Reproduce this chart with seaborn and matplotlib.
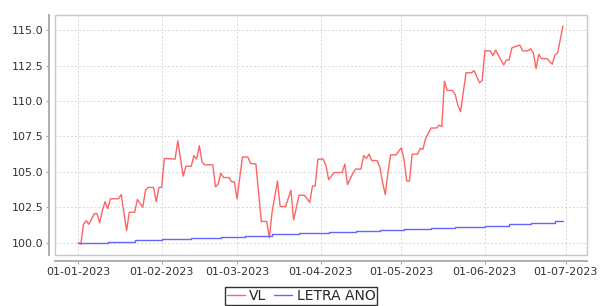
import pandas as pd
import matplotlib.pyplot as plt
import matplotlib.dates as mdates
from matplotlib.patches import Rectangle
import seaborn as sns

# VL series
vl_dates = [
    '2023-01-01', '2023-01-02', '2023-01-03', '2023-01-04', '2023-01-05', '2023-01-07',
    '2023-01-08', '2023-01-09', '2023-01-10', '2023-01-11', '2023-01-12', '2023-01-13',
    '2023-01-16', '2023-01-17', '2023-01-19', '2023-01-20', '2023-01-22', '2023-01-23',
    '2023-01-25', '2023-01-26', '2023-01-27', '2023-01-29', '2023-01-30', '2023-01-31',
    '2023-02-01', '2023-02-02', '2023-02-06', '2023-02-07', '2023-02-09', '2023-02-10',
    '2023-02-12', '2023-02-13', '2023-02-14', '2023-02-15', '2023-02-16', '2023-02-17',
    '2023-02-20', '2023-02-21', '2023-02-22', '2023-02-23', '2023-02-24', '2023-02-26',
    '2023-02-27', '2023-02-28', '2023-03-01', '2023-03-03', '2023-03-05', '2023-03-06',
    '2023-03-08', '2023-03-10', '2023-03-12', '2023-03-13', '2023-03-14', '2023-03-16',
    '2023-03-17', '2023-03-19', '2023-03-21', '2023-03-22', '2023-03-24', '2023-03-26',
    '2023-03-28', '2023-03-29', '2023-03-30', '2023-03-31', '2023-04-02', '2023-04-03',
    '2023-04-04', '2023-04-06', '2023-04-09', '2023-04-10', '2023-04-11', '2023-04-13',
    '2023-04-14', '2023-04-16', '2023-04-17', '2023-04-18', '2023-04-19', '2023-04-20',
    '2023-04-22', '2023-04-23', '2023-04-24', '2023-04-25', '2023-04-26', '2023-04-27',
    '2023-04-29', '2023-05-01', '2023-05-02', '2023-05-03', '2023-05-04', '2023-05-05',
    '2023-05-07', '2023-05-08', '2023-05-09', '2023-05-10', '2023-05-12', '2023-05-14',
    '2023-05-15', '2023-05-16', '2023-05-17', '2023-05-18', '2023-05-20', '2023-05-21',
    '2023-05-22', '2023-05-23', '2023-05-25', '2023-05-27', '2023-05-28', '2023-05-30',
    '2023-05-31', '2023-06-01', '2023-06-03', '2023-06-04', '2023-06-05', '2023-06-07',
    '2023-06-08', '2023-06-09', '2023-06-10', '2023-06-11', '2023-06-13', '2023-06-14',
    '2023-06-15', '2023-06-17', '2023-06-18', '2023-06-19', '2023-06-20', '2023-06-21',
    '2023-06-22', '2023-06-24', '2023-06-26', '2023-06-27', '2023-06-28', '2023-06-30',
]
vl_values = [
    100.0, 99.9, 101.3, 101.55, 101.3, 102.05,
    102.05, 101.4, 102.25, 102.9, 102.4, 103.1,
    103.1, 103.4, 100.85, 102.15, 102.15, 103.05,
    102.5, 103.7, 103.9, 103.9, 102.9, 103.9,
    103.9, 105.95, 105.9, 107.2, 104.7, 105.4,
    105.4, 106.15, 105.9, 106.85, 105.7, 105.5,
    105.5, 103.95, 104.15, 104.9, 104.6, 104.6,
    104.3, 104.3, 103.1, 106.05, 106.05, 105.6,
    105.55, 101.5, 101.5, 100.35, 102.15, 104.35,
    102.55, 102.55, 103.7, 101.6, 103.35, 103.35,
    102.85, 104.0, 104.0, 105.9, 105.9, 105.45,
    104.45, 104.95, 104.95, 105.55, 104.1, 104.9,
    105.2, 105.2, 106.15, 105.95, 106.25, 105.8,
    105.8, 105.35, 104.3, 103.4, 104.9, 106.2,
    106.2, 106.7, 105.85, 104.35, 104.35, 106.25,
    106.25, 106.65, 106.6, 107.35, 108.1, 108.1,
    108.3, 108.2, 111.4, 110.75, 110.75, 110.45,
    109.7, 109.25, 112.0, 112.0, 112.15, 111.3,
    111.45, 113.55, 113.55, 113.2, 113.6, 112.9,
    112.55, 112.9, 112.9, 113.75, 113.9, 113.95,
    113.55, 113.55, 113.7, 113.4, 112.3, 113.3,
    113.0, 113.0, 112.6, 113.25, 113.4, 115.3,
]

# LETRA AÑO series (step changes)
letra_dates = [
    '2023-01-01', '2023-01-12', '2023-01-22', '2023-02-01', '2023-02-12', '2023-02-23',
    '2023-03-04', '2023-03-14', '2023-03-24', '2023-04-04', '2023-04-14', '2023-04-23',
    '2023-05-02', '2023-05-12', '2023-05-21', '2023-06-01', '2023-06-10', '2023-06-18',
    '2023-06-27', '2023-06-30',
]
letra_values = [
    100.0, 100.08, 100.16, 100.24, 100.32, 100.41,
    100.5, 100.58, 100.65, 100.73, 100.81, 100.88,
    100.96, 101.04, 101.12, 101.21, 101.3, 101.38,
    101.5, 101.55,
]

y_ticks = [100.0, 102.5, 105.0, 107.5, 110.0, 112.5, 115.0]
x_ticks = ['2023-01-01', '2023-02-01', '2023-03-01', '2023-04-01',
           '2023-05-01', '2023-06-01', '2023-07-01']

vl = pd.DataFrame({'fecha': pd.to_datetime(vl_dates), 'valor': vl_values})
letra = pd.DataFrame({'fecha': pd.to_datetime(letra_dates), 'valor': letra_values})

sns.set_style('white')
plt.rcParams['font.family'] = ['DejaVu Sans']

fig = plt.figure(figsize=(6, 3.06), dpi=100)
ax = fig.add_axes([55 / 600, 1 - 255 / 306, 532 / 600, 240 / 306])

sns.lineplot(data=vl, x='fecha', y='valor', ax=ax, color='#ff6464', linewidth=1, label='VL')
sns.lineplot(data=letra, x='fecha', y='valor', ax=ax, color='#6464ff', linewidth=1,
             drawstyle='steps-post', label='LETRA AÑO')

ax.set_xlim(pd.Timestamp('2022-12-23 10:00'), pd.Timestamp('2023-07-08 22:00'))
ax.set_ylim(99.13, 116.08)
ax.set_yticks(y_ticks)
ax.set_xticks(pd.to_datetime(x_ticks))
ax.xaxis.set_major_formatter(mdates.DateFormatter('%d-%m-%Y'))
ax.yaxis.set_major_formatter(plt.FuncFormatter(lambda v, p: f'{v:.1f}'))
ax.set_xlabel('')
ax.set_ylabel('')

ax.grid(True, color='#d8d8d8', linestyle=(0, (2, 2)), linewidth=0.7)

# plot outline and offset axis lines
for s in ['top', 'right']:
    ax.spines[s].set_color('#c8c8c8')
ax.spines['left'].set_position(('outward', 4))
ax.spines['bottom'].set_position(('outward', 4.3))
ax.spines['left'].set_color('#a8a8a8')
ax.spines['bottom'].set_color('#a8a8a8')
ax.spines['left'].set_linewidth(1.3)
ax.spines['bottom'].set_linewidth(1.3)
ax.add_patch(Rectangle((0, 0), 1, 1, transform=ax.transAxes, fill=False,
                       edgecolor='#c8c8c8', linewidth=1, clip_on=False))

ax.tick_params(axis='both', which='both', length=2, width=0.8, color='#a8a8a8',
               labelsize=8, labelcolor='#333333', pad=2)
ax.tick_params(axis='both', left=True, bottom=True)

leg = ax.legend(loc='upper center', bbox_to_anchor=(0.5 - 20 / 532, -0.132),
                ncol=2, frameon=True, fancybox=False, fontsize=10, handlelength=1.3,
                handletextpad=0.3, columnspacing=0.6, borderpad=0.15, borderaxespad=0)
leg.get_frame().set_edgecolor('black')
leg.get_frame().set_linewidth(1)

fig.savefig('out.png', dpi=100)
